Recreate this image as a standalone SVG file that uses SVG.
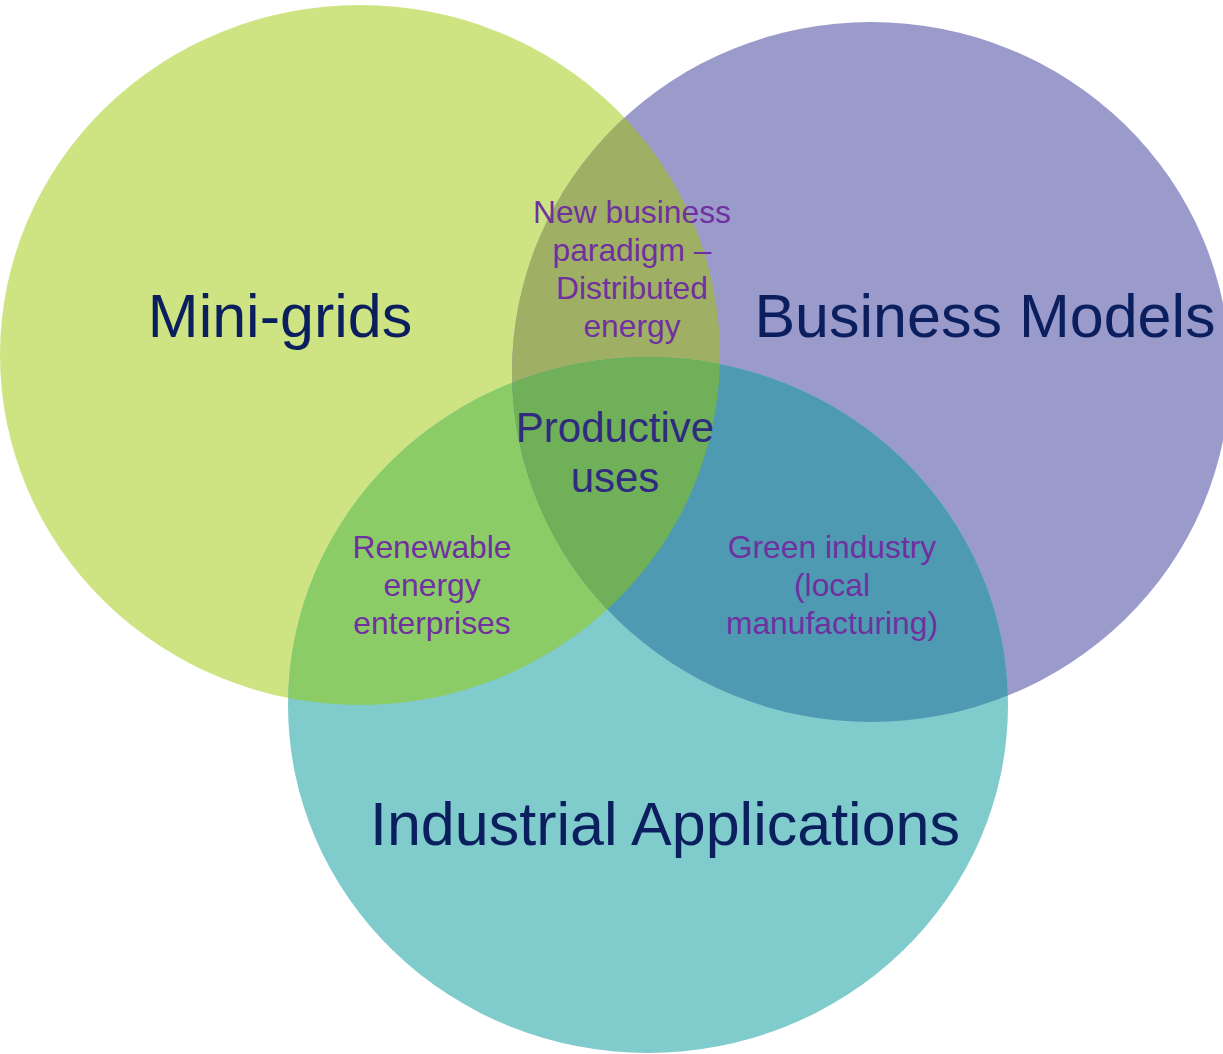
<svg xmlns="http://www.w3.org/2000/svg" xmlns:xlink="http://www.w3.org/1999/xlink" width="1223" height="1054" viewBox="0 0 1223 1054">
<style>
.big{font-family:"Liberation Sans",Arial,sans-serif;font-size:61px;fill:#0B1F5E;text-anchor:middle}
.mid{font-family:"Liberation Sans",Arial,sans-serif;font-size:42px;fill:#2F2B7E;text-anchor:middle}
.small{font-family:"Liberation Sans",Arial,sans-serif;font-size:31.8px;fill:#7030A0;text-anchor:middle}
</style>
<defs>
<ellipse id="eA" cx="360" cy="355" rx="360" ry="350"/>
<ellipse id="eB" cx="871" cy="372" rx="359" ry="350"/>
<ellipse id="eC" cx="648" cy="705" rx="360" ry="348"/>
<clipPath id="cA"><use xlink:href="#eA"/></clipPath>
<clipPath id="cB"><use xlink:href="#eB"/></clipPath>
</defs>
<rect width="1223" height="1054" fill="#ffffff"/>
<g id="mini-grids">
<use xlink:href="#eA" fill="#CEE482"/>
</g>
<g id="business-models">
<use xlink:href="#eB" fill="#9A9ACB"/>
</g>
<g id="industrial-applications">
<use xlink:href="#eC" fill="#80CBCC"/>
</g>
<g id="overlaps">
<use xlink:href="#eB" fill="#9FB064" clip-path="url(#cA)"/>
<use xlink:href="#eC" fill="#8CCC66" clip-path="url(#cA)"/>
<use xlink:href="#eC" fill="#4E9AB2" clip-path="url(#cB)"/>
<g clip-path="url(#cA)"><use xlink:href="#eC" fill="#70B058" clip-path="url(#cB)"/></g>
</g>
<g id="labels">
<text class="big" x="280" y="337">Mini-grids</text>
<text class="big" x="985" y="337">Business Models</text>
<text class="big" x="665" y="845">Industrial Applications</text>
<text class="mid" x="615" y="442">Productive</text>
<text class="mid" x="615" y="492">uses</text>
<text class="small" x="632" y="223">New business</text>
<text class="small" x="632" y="261">paradigm –</text>
<text class="small" x="632" y="299">Distributed</text>
<text class="small" x="632" y="337">energy</text>
<text class="small" x="432" y="558">Renewable</text>
<text class="small" x="432" y="596">energy</text>
<text class="small" x="432" y="634">enterprises</text>
<text class="small" x="832" y="558">Green industry</text>
<text class="small" x="832" y="596">(local</text>
<text class="small" x="832" y="634">manufacturing)</text>
</g>
</svg>
